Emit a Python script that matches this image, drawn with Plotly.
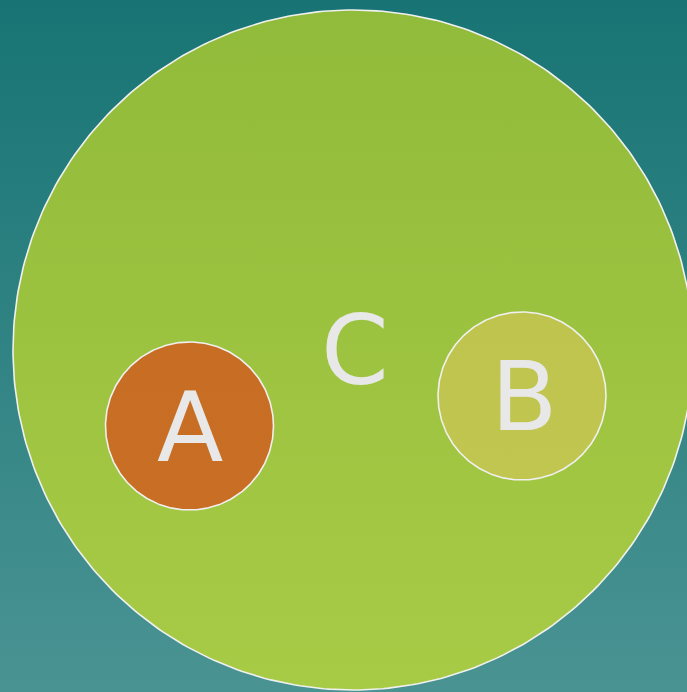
import numpy as np
import plotly.graph_objects as go

# Euler diagram data: sets, centres and radii (pixel space)
labels = ["C", "A", "B"]
centers_x = [353, 189.5, 522]
centers_y = [350, 426, 396]
radii = [340, 84, 84]
label_x = [355, 190, 524]
label_y = [350, 427, 396]
fill_top = ["#91bb3a", "#c86e24", "#bfc44f"]
fill_bottom = ["#a8cb46", "#c96f25", "#c1c651"]
label_size = [97, 97, 97]

W, H = 687, 692

fig = go.Figure()

# background gradient
fig.add_trace(go.Scatter(
    x=[0, W, W, 0, 0], y=[0, 0, H, H, 0], mode="lines", fill="toself",
    line=dict(width=0), hoverinfo="skip", showlegend=False,
    fillgradient=dict(type="vertical", start=0, stop=H,
                      colorscale=[[0, "#187474"], [1, "#4a9393"]]),
))

t = np.linspace(0, 2 * np.pi, 361)
for lab, cx, cy, r, c1, c2 in zip(labels, centers_x, centers_y, radii, fill_top, fill_bottom):
    fig.add_trace(go.Scatter(
        x=cx + r * np.cos(t), y=cy + r * np.sin(t), mode="lines", fill="toself",
        line=dict(color="#f0f0f0", width=1.6), hoverinfo="skip", showlegend=False,
        fillgradient=dict(type="vertical", start=cy - r, stop=cy + r,
                          colorscale=[[0, c1], [1, c2]]),
    ))

for lab, lx, ly, s in zip(labels, label_x, label_y, label_size):
    fig.add_annotation(
        x=lx, y=ly, text=lab, showarrow=False, xanchor="center", yanchor="middle",
        font=dict(family="DejaVu Sans", size=s, color="#e8e8e8"),
    )

fig.update_layout(
    width=W, height=H, margin=dict(l=0, r=0, t=0, b=0),
    paper_bgcolor="#187474", plot_bgcolor="#187474",
    xaxis=dict(range=[0, W], visible=False, fixedrange=True),
    yaxis=dict(range=[H, 0], visible=False, fixedrange=True),
)

fig.write_html(
    "out.html",
    config={"displayModeBar": False},
    post_script="document.body.style.margin='0';document.body.style.overflow='hidden';",
)
